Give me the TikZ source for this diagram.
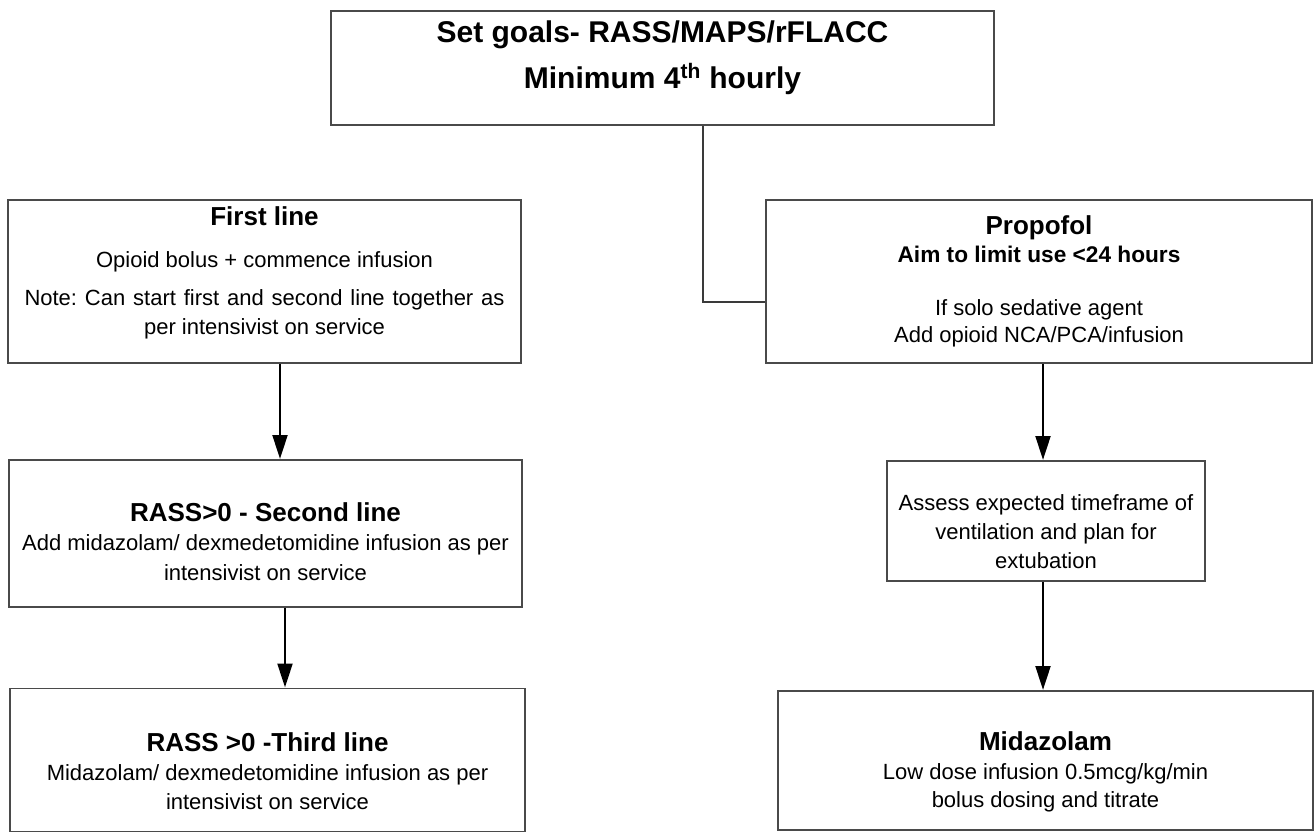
\documentclass[tikz,border=0pt]{standalone}
\usepackage{fontspec}
\setmainfont{Liberation Sans}
\usepackage{xcolor}
\usetikzlibrary{arrows.meta}
\definecolor{boxgray}{HTML}{4A4A4A}
\definecolor{linkgray}{HTML}{3A3A3A}
\newcommand{\boxtitle}{\fontsize{19.5}{23}\selectfont\bfseries}
\newcommand{\bodytext}{\fontsize{16.5}{22}\selectfont\frenchspacing}

\begin{document}
\begin{tikzpicture}[x=0.75pt, y=-0.75pt]
  \tikzset{
    stepbox/.style={draw=boxgray, line width=1.4pt, inner sep=0pt, align=center, font=\bodytext},
    flow/.style={-{Triangle[width=11pt, length=18pt]}, line width=2.2pt, black},
    link/.style={draw=linkgray, line width=1.6pt}
  }
  \useasboundingbox (0,0) rectangle (1314,832);
  \node[stepbox, minimum width=497.25pt, minimum height=85.5pt,
        font=\fontsize{22.5}{27}\selectfont\bfseries] (goals) at (662.5,68)
    {Set goals- RASS/MAPS/rFLACC\\[7.5pt] Minimum 4\textsuperscript{th} hourly\rule[-19.7pt]{0pt}{0pt}};
  \node[stepbox, minimum width=384.75pt, minimum height=122.25pt] (firstline) at (264.5,281.5)
    {{\boxtitle First line}\\[9.5pt] Opioid bolus + commence infusion\\[6pt]
     \makebox[360pt][s]{Note: Can start first and second line together as}\\
     per intensivist on service\rule[-16.3pt]{0pt}{0pt}};
  \node[stepbox, minimum width=409.5pt, minimum height=122.25pt] (propofol) at (1039,281.5)
    {{\boxtitle Propofol}\\[-1.5pt] {\fontsize{17}{21}\selectfont\bfseries Aim to limit use <24 hours}\\[18pt]
     If solo sedative agent\\[-2pt] Add opioid NCA/PCA/infusion};
  \node[stepbox, minimum width=384.75pt, minimum height=110.25pt] (secondline) at (265.5,533.5)
    {\rule{0pt}{26.2pt}{\boxtitle RASS>0 - Second line}\\ Add midazolam/ dexmedetomidine infusion as per\\ intensivist on service};
  \node[stepbox, minimum width=238.5pt, minimum height=90pt] (assess) at (1046,521)
    {\rule{0pt}{28pt}Assess expected timeframe of\\ ventilation and plan for\\ extubation};
  \node[stepbox, minimum width=386.25pt, minimum height=107.25pt] (thirdline) at (267.5,760)
    {\rule{0pt}{30.7pt}{\boxtitle RASS >0 -Third line}\\ Midazolam/ dexmedetomidine infusion as per\\ intensivist on service};
  \node[stepbox, minimum width=401.25pt, minimum height=104.25pt] (midaz) at (1045.5,760.5)
    {\rule{0pt}{30.7pt}{\boxtitle Midazolam}\\ Low dose infusion 0.5mcg/kg/min\\[-1pt] bolus dosing and titrate};
  % connectors
  \coordinate (bend) at (703,302);
  \coordinate (leftcol) at (280,0);
  \coordinate (leftcol2) at (285,0);
  \coordinate (rightcol) at (1043,0);
  \draw[link] (goals.south -| bend) |- (propofol.west |- bend);
  \draw[flow] (firstline.south -| leftcol) -- (secondline.north -| leftcol);
  \draw[flow] (secondline.south -| leftcol2) -- (thirdline.north -| leftcol2);
  \draw[flow] (propofol.south -| rightcol) -- (assess.north -| rightcol);
  \draw[flow] (assess.south -| rightcol) -- (midaz.north -| rightcol);
\end{tikzpicture}
\end{document}
